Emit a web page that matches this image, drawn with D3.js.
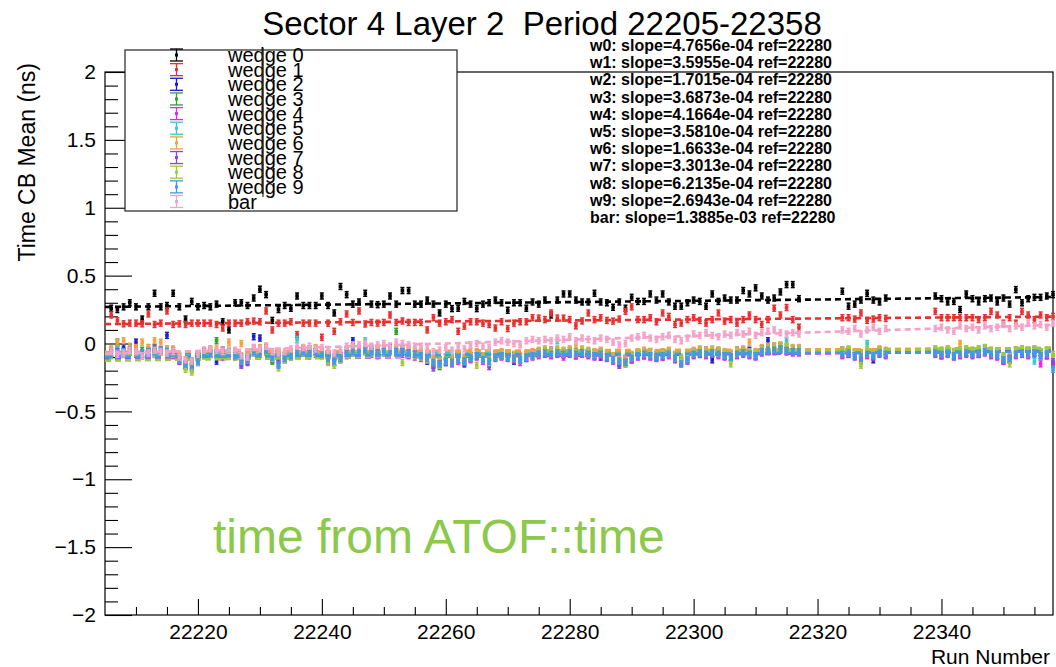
<!DOCTYPE html>
<html>
<head>
<meta charset="utf-8">
<script src="https://cdn.jsdelivr.net/npm/d3@7"></script>
<style>
body { margin: 0; background: #fff; }
text { font-family: "Liberation Sans", Arial, Helvetica, sans-serif; white-space: pre; }
</style>
</head>
<body>
<div id="chart"></div>
<script>
// run numbers that have a point
const runs = [
  22206,22207,22208,22209,22210,22211,22212,22213,22214,22215,
  22216,22217,22218,22219,22220,22221,22222,22223,22224,22225,
  22226,22227,22228,22229,22230,22231,22232,22233,22234,22235,
  22236,22237,22238,22239,22240,22241,22242,22243,22244,22245,
  22246,22247,22248,22249,22250,22251,22252,22253,22254,22255,
  22256,22257,22258,22259,22260,22261,22262,22263,22264,22265,
  22266,22267,22268,22269,22270,22271,22272,22273,22274,22275,
  22276,22277,22278,22279,22280,22281,22282,22283,22284,22285,
  22286,22287,22288,22289,22290,22291,22292,22293,22294,22295,
  22296,22297,22298,22299,22300,22301,22302,22303,22304,22305,
  22306,22307,22308,22309,22310,22311,22312,22313,22314,22315,
  22316,22317,22324,22325,22326,22327,22328,22329,22330,22331,
  22339,22340,22341,22342,22343,22344,22345,22346,22347,22348,
  22349,22350,22351,22352,22353,22354,22355,22356,22357,22358
];

const w0 = [
  0.26,0.25,0.27,0.30,0.27,0.18,0.27,0.37,0.27,0.28,
  0.37,0.27,0.18,0.31,0.27,0.28,0.27,0.29,0.16,0.10,
  0.30,0.30,0.28,0.335,0.40,0.36,0.17,0.25,0.28,0.26,
  0.35,0.28,0.28,0.28,0.35,0.28,0.225,0.42,0.36,0.29,
  0.306,0.37,0.29,0.286,0.29,0.35,0.29,0.39,0.39,0.29,
  0.29,0.32,0.29,0.225,0.29,0.257,0.26,0.31,0.29,0.257,
  0.29,0.30,0.32,0.30,0.245,0.30,0.30,0.26,0.306,0.29,
  0.32,0.21,0.32,0.365,0.365,0.32,0.306,0.306,0.37,0.306,
  0.30,0.267,0.306,0.26,0.34,0.31,0.31,0.365,0.32,0.365,
  0.306,0.275,0.275,0.30,0.32,0.31,0.275,0.365,0.31,0.335,
  0.32,0.32,0.39,0.365,0.41,0.35,0.32,0.335,0.38,0.434,
  0.434,0.33,0.385,0.275,0.29,0.32,0.37,0.32,0.306,0.335,
  0.35,0.33,0.306,0.31,0.25,0.365,0.33,0.306,0.33,0.335,
  0.306,0.335,0.29,0.397,0.30,0.33,0.34,0.34,0.35,0.36
];
const w1 = [
  0.21,0.168,0.145,0.15,0.15,0.145,0.218,0.14,0.15,0.24,
  0.14,0.145,0.14,0.15,0.15,0.15,0.15,0.14,0.114,0.15,
  0.15,0.15,0.16,0.165,0.16,0.24,0.10,0.15,0.15,0.16,
  0.065,0.15,0.15,0.15,0.046,0.15,0.09,0.16,0.218,0.155,
  0.24,0.144,0.155,0.15,0.155,0.21,0.155,0.166,0.155,0.155,
  0.155,0.10,0.19,0.15,0.16,0.176,0.09,0.128,0.16,0.16,
  0.15,0.14,0.114,0.16,0.11,0.15,0.16,0.16,0.19,0.187,
  0.176,0.225,0.187,0.187,0.176,0.13,0.166,0.225,0.176,0.19,
  0.17,0.165,0.18,0.237,0.27,0.176,0.176,0.19,0.16,0.225,
  0.20,0.14,0.15,0.176,0.19,0.17,0.15,0.176,0.225,0.165,
  0.176,0.15,0.176,0.21,0.176,0.14,0.176,0.26,0.21,0.265,
  0.176,0.12,0.19,0.19,0.18,0.225,0.17,0.18,0.19,0.185,
  0.237,0.19,0.19,0.19,0.19,0.19,0.19,0.176,0.19,0.237,
  0.21,0.15,0.19,0.15,0.237,0.21,0.176,0.21,0.19,0.20
];
const w2 = [
  -0.07,-0.04,-0.03,-0.06,0.01,-0.08,-0.05,-0.03,-0.06,0.06,
  -0.07,-0.12,-0.16,-0.13,-0.11,-0.06,-0.08,-0.13,-0.05,-0.07,
  -0.09,-0.10,-0.13,0.05,0.04,-0.06,-0.12,-0.15,-0.09,-0.07,
  -0.05,-0.07,-0.04,-0.06,-0.08,-0.12,-0.10,-0.09,-0.05,0.02,
  -0.06,-0.05,-0.04,-0.07,-0.06,-0.03,-0.06,-0.04,-0.07,-0.08,
  -0.09,-0.13,-0.16,-0.12,-0.14,-0.11,-0.12,-0.15,-0.09,-0.07,
  -0.12,-0.10,-0.08,-0.09,-0.08,-0.13,-0.10,-0.11,-0.07,-0.06,
  -0.07,-0.05,-0.07,-0.08,-0.05,-0.09,-0.06,-0.08,-0.07,-0.10,
  -0.10,-0.12,-0.14,-0.11,-0.12,-0.07,-0.09,-0.06,-0.10,-0.07,
  -0.08,-0.09,-0.13,-0.10,-0.06,-0.08,-0.05,-0.12,-0.06,-0.09,
  -0.10,-0.05,-0.07,-0.05,-0.09,-0.04,0.02,-0.05,-0.02,-0.06,
  -0.04,-0.06,-0.05,-0.08,-0.07,-0.11,-0.06,-0.12,-0.05,-0.08,
  -0.05,-0.09,-0.07,-0.06,-0.08,-0.07,-0.06,-0.08,-0.04,-0.06,
  -0.09,-0.13,-0.12,-0.05,-0.07,-0.08,-0.05,-0.07,-0.09,-0.15
];
const w3 = [
  -0.05,0.01,-0.06,-0.03,-0.07,-0.05,-0.06,-0.04,-0.05,-0.06,
  -0.05,-0.10,-0.17,-0.19,-0.13,-0.08,-0.05,0.02,-0.08,-0.06,
  -0.07,-0.14,-0.10,-0.06,-0.04,-0.03,-0.13,-0.10,-0.11,-0.09,
  -0.07,-0.04,-0.07,-0.04,-0.06,-0.09,-0.14,-0.11,-0.07,-0.04,
  -0.04,-0.05,-0.06,-0.05,-0.04,-0.05,0.09,-0.06,-0.05,-0.08,
  -0.07,-0.11,-0.15,-0.17,-0.10,-0.14,-0.12,-0.13,-0.11,-0.09,
  -0.10,-0.14,-0.10,-0.07,-0.10,-0.09,-0.12,-0.08,-0.09,-0.06,
  -0.05,-0.08,-0.05,-0.06,-0.07,-0.06,-0.07,-0.06,-0.09,-0.06,
  -0.08,-0.10,-0.13,-0.15,-0.09,-0.07,-0.08,-0.09,-0.08,-0.10,
  -0.06,-0.11,-0.14,-0.12,-0.08,-0.05,-0.06,-0.07,-0.05,-0.07,
  -0.08,-0.06,-0.05,-0.08,-0.07,-0.06,-0.03,-0.02,-0.04,-0.03,
  -0.06,-0.04,-0.08,-0.05,-0.09,-0.07,-0.08,-0.07,-0.07,-0.06,
  -0.07,-0.06,-0.05,-0.09,-0.06,-0.05,-0.08,-0.07,-0.06,-0.08,
  -0.07,-0.10,-0.09,-0.08,-0.05,-0.06,-0.07,-0.09,-0.06,-0.11
];
const w4 = [
  -0.08,-0.10,-0.07,-0.06,-0.08,-0.09,-0.07,-0.08,-0.06,-0.08,
  -0.09,-0.13,-0.15,-0.17,-0.14,-0.09,-0.08,-0.08,-0.10,-0.08,
  -0.10,-0.15,-0.13,-0.07,-0.08,-0.06,-0.11,-0.12,-0.12,-0.10,
  -0.08,-0.07,-0.09,-0.08,-0.09,-0.13,-0.14,-0.12,-0.09,-0.07,
  -0.07,-0.06,-0.08,-0.09,-0.07,-0.06,-0.07,-0.08,-0.09,-0.10,
  -0.11,-0.12,-0.15,-0.16,-0.14,-0.15,-0.13,-0.14,-0.12,-0.10,
  -0.13,-0.15,-0.11,-0.10,-0.11,-0.12,-0.14,-0.11,-0.10,-0.09,
  -0.08,-0.09,-0.08,-0.10,-0.08,-0.09,-0.08,-0.09,-0.10,-0.09,
  -0.11,-0.13,-0.15,-0.14,-0.12,-0.10,-0.09,-0.10,-0.11,-0.10,
  -0.09,-0.12,-0.15,-0.13,-0.09,-0.08,-0.09,-0.08,-0.09,-0.10,
  -0.11,-0.09,-0.08,-0.09,-0.10,-0.07,-0.06,-0.06,-0.05,-0.06,
  -0.07,-0.07,-0.09,-0.08,-0.10,-0.12,-0.09,-0.10,-0.08,-0.09,
  -0.08,-0.09,-0.08,-0.10,-0.09,-0.08,-0.09,-0.08,-0.07,-0.09,
  -0.10,-0.13,-0.12,-0.09,-0.08,-0.09,-0.08,-0.15,-0.09,-0.14
];
const w5 = [
  -0.06,-0.04,-0.06,-0.05,-0.04,-0.07,-0.03,-0.06,-0.05,-0.04,
  -0.06,-0.10,-0.13,-0.14,-0.11,-0.07,-0.05,-0.07,-0.06,-0.05,
  -0.08,-0.11,-0.10,-0.04,-0.06,-0.05,-0.08,-0.10,-0.09,-0.07,
  0.03,-0.05,-0.06,-0.04,-0.06,-0.09,-0.11,-0.10,-0.05,-0.04,
  -0.04,0.02,-0.05,-0.06,-0.04,-0.05,-0.04,-0.06,-0.05,-0.06,
  -0.08,-0.09,-0.12,-0.15,-0.11,-0.12,-0.10,-0.11,-0.09,-0.07,
  -0.10,-0.11,-0.08,-0.07,-0.08,-0.11,-0.10,-0.08,-0.07,-0.06,
  -0.06,-0.06,0.02,-0.06,-0.05,-0.07,-0.05,-0.06,-0.07,-0.06,
  -0.08,-0.10,-0.11,-0.12,-0.09,-0.07,-0.06,-0.07,-0.08,-0.07,
  -0.06,-0.09,-0.11,-0.10,-0.06,-0.05,-0.06,-0.05,-0.06,-0.07,
  -0.08,-0.06,-0.05,-0.06,-0.07,-0.04,-0.03,-0.03,-0.02,0.02,
  -0.04,-0.04,-0.06,-0.05,-0.07,-0.08,0.00,-0.07,-0.05,-0.06,
  -0.05,-0.06,-0.05,-0.07,-0.06,-0.05,-0.06,-0.05,-0.04,-0.06,
  -0.07,-0.10,-0.09,-0.06,-0.05,-0.06,-0.13,-0.07,-0.06,-0.10
];
const w6 = [
  -0.04,0.01,0.02,-0.02,-0.03,0.01,-0.03,0.02,0.01,-0.04,
  -0.04,-0.09,-0.12,-0.13,-0.10,-0.05,-0.04,-0.04,-0.05,0.01,
  -0.06,0.00,-0.09,-0.03,-0.03,-0.02,-0.07,-0.09,-0.08,-0.06,
  -0.04,-0.03,-0.04,-0.03,-0.05,-0.08,-0.10,-0.08,-0.04,-0.03,
  -0.03,-0.02,-0.03,-0.04,-0.03,-0.02,-0.03,-0.03,-0.04,-0.05,
  -0.06,-0.08,-0.11,-0.12,-0.10,-0.11,-0.09,-0.10,-0.06,-0.06,
  -0.09,-0.10,-0.07,-0.06,-0.07,-0.08,-0.09,-0.07,-0.06,-0.05,
  -0.04,-0.05,-0.04,-0.05,-0.04,-0.01,-0.04,-0.05,-0.06,-0.05,
  -0.07,-0.09,-0.10,-0.11,-0.08,-0.06,-0.05,-0.06,-0.07,-0.06,
  -0.05,-0.08,-0.10,-0.09,-0.05,-0.04,-0.05,-0.04,-0.05,-0.06,
  -0.07,-0.05,-0.04,0.01,-0.06,-0.03,-0.02,-0.02,-0.01,-0.02,
  -0.03,-0.03,-0.05,-0.04,-0.06,-0.07,-0.05,-0.06,-0.04,-0.05,
  -0.04,-0.05,-0.04,-0.06,0.00,-0.04,-0.05,-0.04,-0.03,-0.05,
  -0.06,-0.09,-0.08,-0.05,-0.04,-0.05,-0.04,-0.06,-0.05,-0.10
];
const w7 = [
  -0.07,-0.06,-0.08,-0.05,-0.06,-0.07,-0.06,-0.07,-0.05,-0.06,
  -0.07,-0.13,-0.16,-0.18,-0.13,-0.08,-0.07,-0.07,-0.08,-0.07,
  -0.09,-0.16,-0.14,-0.06,-0.06,-0.05,-0.10,-0.12,-0.11,-0.09,
  -0.07,-0.06,-0.07,-0.06,-0.08,-0.12,-0.14,-0.11,-0.07,-0.06,
  -0.06,-0.05,-0.06,-0.07,-0.06,-0.05,-0.06,-0.06,-0.07,-0.08,
  -0.09,-0.12,-0.18,-0.15,-0.13,-0.14,-0.12,-0.13,-0.11,-0.09,
  -0.12,-0.17,-0.10,-0.09,-0.10,-0.11,-0.12,-0.10,-0.09,-0.08,
  -0.07,-0.08,-0.07,-0.08,-0.07,-0.08,-0.07,-0.08,-0.09,-0.08,
  -0.10,-0.12,-0.16,-0.14,-0.11,-0.09,-0.08,-0.09,-0.10,-0.09,
  -0.08,-0.11,-0.13,-0.12,-0.08,-0.07,-0.08,-0.07,-0.08,-0.09,
  -0.10,-0.08,-0.07,-0.08,-0.09,-0.06,-0.05,-0.05,-0.04,-0.05,
  -0.06,-0.06,-0.08,-0.07,-0.09,-0.13,-0.08,-0.09,-0.07,-0.08,
  -0.07,-0.08,-0.07,-0.09,-0.08,-0.07,-0.08,-0.07,-0.06,-0.08,
  -0.09,-0.12,-0.11,-0.08,-0.07,-0.08,-0.07,-0.09,-0.08,-0.13
];
const w8 = [
  -0.09,-0.07,-0.08,-0.06,-0.07,-0.09,-0.07,-0.08,-0.06,-0.07,
  -0.08,-0.12,-0.19,-0.21,-0.14,-0.09,-0.08,-0.09,-0.09,-0.08,
  -0.10,-0.13,-0.12,-0.07,-0.07,-0.06,-0.11,-0.18,-0.12,-0.10,
  -0.08,-0.07,-0.08,-0.07,-0.09,-0.14,-0.16,-0.12,-0.08,-0.07,
  -0.07,-0.06,-0.07,-0.08,-0.07,-0.06,-0.07,-0.14,-0.08,-0.09,
  -0.10,-0.12,-0.14,-0.16,-0.13,-0.14,-0.12,-0.13,-0.11,-0.16,
  -0.12,-0.14,-0.10,-0.09,-0.10,-0.11,-0.12,-0.10,-0.09,-0.08,
  -0.06,-0.07,-0.06,-0.07,-0.06,-0.07,-0.06,-0.07,-0.08,-0.07,
  -0.09,-0.11,-0.13,-0.15,-0.10,-0.08,-0.07,-0.08,-0.09,-0.08,
  -0.07,-0.10,-0.12,-0.11,-0.07,-0.06,-0.07,-0.06,-0.07,-0.08,
  -0.15,-0.07,-0.06,-0.07,-0.08,-0.05,-0.04,-0.04,-0.03,-0.03,
  -0.04,-0.04,-0.06,-0.05,-0.07,-0.16,-0.06,-0.07,-0.05,-0.06,
  -0.04,-0.05,-0.04,-0.06,-0.05,-0.04,-0.05,-0.04,-0.03,-0.05,
  -0.06,-0.09,-0.15,-0.05,-0.04,-0.05,-0.04,-0.06,-0.05,-0.08
];
const w9 = [
  -0.08,-0.07,-0.06,-0.05,-0.06,-0.07,-0.06,-0.06,-0.05,-0.06,
  -0.07,-0.12,-0.15,-0.16,-0.13,-0.08,-0.07,-0.07,-0.08,-0.07,
  -0.09,-0.13,-0.12,-0.06,-0.06,-0.05,-0.10,-0.16,-0.11,-0.09,
  -0.07,-0.06,-0.07,-0.06,-0.08,-0.11,-0.13,-0.11,-0.07,-0.06,
  -0.06,-0.05,-0.06,-0.07,-0.06,-0.05,-0.06,-0.06,-0.07,-0.08,
  -0.09,-0.11,-0.14,-0.15,-0.13,-0.14,-0.12,-0.13,-0.11,-0.09,
  -0.12,-0.13,-0.10,-0.09,-0.10,-0.11,-0.12,-0.10,-0.09,-0.08,
  -0.07,-0.08,-0.07,-0.08,-0.07,-0.08,-0.07,-0.08,-0.09,-0.08,
  -0.10,-0.12,-0.13,-0.14,-0.11,-0.09,-0.08,-0.09,-0.10,-0.09,
  -0.08,-0.11,-0.15,-0.12,-0.08,-0.07,-0.08,-0.07,-0.08,-0.09,
  -0.10,-0.08,-0.07,-0.08,-0.09,-0.06,-0.05,-0.05,-0.04,-0.05,
  -0.06,-0.06,-0.08,-0.07,-0.09,-0.10,-0.08,-0.09,-0.07,-0.08,
  -0.07,-0.08,-0.07,-0.09,-0.08,-0.07,-0.08,-0.07,-0.06,-0.08,
  -0.09,-0.12,-0.11,-0.08,-0.07,-0.08,-0.07,-0.09,-0.08,-0.19
];
const bar = [
  -0.06,-0.08,-0.07,-0.05,-0.06,-0.09,-0.07,-0.05,-0.06,-0.07,
  -0.06,-0.10,-0.12,-0.13,-0.08,-0.05,-0.04,-0.05,-0.06,-0.05,
  -0.05,-0.09,-0.10,-0.03,-0.04,-0.02,-0.06,-0.07,-0.06,-0.04,
  -0.02,-0.03,-0.02,-0.04,-0.03,-0.05,-0.07,-0.05,-0.02,-0.01,
  -0.01,0.00,-0.02,-0.01,0.00,-0.02,0.01,0.00,-0.01,-0.02,
  -0.02,-0.04,-0.06,-0.05,-0.03,-0.05,-0.02,-0.04,-0.01,0.00,
  -0.02,-0.03,0.01,0.02,0.01,0.00,-0.01,0.02,0.03,0.02,
  0.03,0.02,0.04,0.03,0.05,0.02,0.04,0.03,0.02,0.04,
  0.03,0.01,-0.01,0.00,0.04,0.05,0.06,0.04,0.03,0.05,
  0.06,0.03,0.02,0.04,0.07,0.06,0.08,0.06,0.05,0.07,
  0.06,0.08,0.07,0.09,0.06,0.08,0.09,0.10,0.08,0.07,
  0.08,0.07,0.10,0.09,0.11,0.07,0.10,0.12,0.09,0.11,
  0.11,0.12,0.10,0.09,0.13,0.11,0.12,0.10,0.13,0.11,
  0.12,0.14,0.11,0.13,0.12,0.15,0.13,0.14,0.12,0.15
];

const seriesValues = [w0, w1, w2, w3, w4, w5, w6, w7, w8, w9, bar];
const seriesNames = ["wedge 0","wedge 1","wedge 2","wedge 3","wedge 4","wedge 5","wedge 6","wedge 7","wedge 8","wedge 9","bar"];
const seriesTags = ["w0","w1","w2","w3","w4","w5","w6","w7","w8","w9","bar"];
const seriesColors = ["#000000","#e8302e","#1c1cd4","#34a02c","#ee22ee","#33cccc","#f2a040","#8a44ee","#9ccc3a","#3d9be9","#f4a2c8"];
const errs = [0.022,0.022,0.022,0.022,0.022,0.022,0.022,0.022,0.022,0.022,0.022];

// linear fits: value = intercept + slope*(run - ref)
const slopes = [4.7656e-04,3.5955e-04,1.7015e-04,3.6873e-04,4.1664e-04,3.5810e-04,1.6633e-04,3.3013e-04,6.2135e-04,2.6943e-04,1.3885e-03];
const intercepts = [0.305,0.17,-0.07,-0.07,-0.09,-0.06,-0.05,-0.08,-0.08,-0.08,0.028];
const refRun = 22280;

const yMajor = [-2,-1.5,-1,-0.5,0,0.5,1,1.5,2];
const xMajor = [22220,22240,22260,22280,22300,22320,22340];

const width = 1056, height = 667;
const frame = {left: 105, right: 1053, top: 72, bottom: 615};

const svg = d3.select("#chart").append("svg")
    .attr("width", width)
    .attr("height", height);

const x = d3.scaleLinear().domain([22205, 22358]).range([frame.left, frame.right]);
const y = d3.scaleLinear().domain([-2, 2]).range([frame.bottom, frame.top]);

// frame
svg.append("rect")
    .attr("x", frame.left).attr("y", frame.top)
    .attr("width", frame.right - frame.left)
    .attr("height", frame.bottom - frame.top)
    .attr("fill", "none").attr("stroke", "#000").attr("stroke-width", 1.2);

// y axis (ticks point inside the frame)
const yMinor = d3.range(-2, 2.001, 0.1).filter(v => Math.abs(v * 2 - Math.round(v * 2)) > 1e-6);
svg.append("g")
    .attr("transform", `translate(${frame.left},0)`)
    .call(d3.axisLeft(y).tickValues(yMinor).tickSize(-13).tickFormat(""))
    .call(g => g.select(".domain").remove());
const yAxis = svg.append("g")
    .attr("transform", `translate(${frame.left},0)`)
    .call(d3.axisLeft(y).tickValues(yMajor).tickSize(-27).tickPadding(9)
        .tickFormat(d => d3.format("~g")(d)))
    .call(g => g.select(".domain").remove());
yAxis.selectAll("text").attr("font-size", 21).attr("font-family", "Liberation Sans, Arial, sans-serif");

// x axis
const xMinor = d3.range(22210, 22358, 5).filter(v => v % 20 !== 0);
svg.append("g")
    .attr("transform", `translate(0,${frame.bottom})`)
    .call(d3.axisBottom(x).tickValues(xMinor).tickSize(-8).tickFormat(""))
    .call(g => g.select(".domain").remove());
const xAxis = svg.append("g")
    .attr("transform", `translate(0,${frame.bottom})`)
    .call(d3.axisBottom(x).tickValues(xMajor).tickSize(-16).tickPadding(9)
        .tickFormat(d3.format("d")))
    .call(g => g.select(".domain").remove());
xAxis.selectAll("text").attr("font-size", 21).attr("font-family", "Liberation Sans, Arial, sans-serif");
svg.selectAll(".tick line").attr("stroke", "#000").attr("stroke-width", 1.1);

// points and fits, one graph after the other
const plot = svg.append("g");
seriesValues.forEach((vals, i) => {
    const col = seriesColors[i];
    const e = errs[i];
    const pts = runs.map((r, j) => ({run: r, v: vals[j]})).filter(d => d.v !== null);
    const g = plot.append("g");
    const p = g.selectAll("g").data(pts).enter().append("g")
        .attr("transform", d => `translate(${x(d.run)},0)`);
    p.append("line")
        .attr("y1", d => y(d.v - e)).attr("y2", d => y(d.v + e))
        .attr("stroke", col).attr("stroke-width", 1.8);
    p.append("line")
        .attr("x1", -2).attr("x2", 2)
        .attr("y1", d => y(d.v - e)).attr("y2", d => y(d.v - e))
        .attr("stroke", col).attr("stroke-width", 1.5);
    p.append("line")
        .attr("x1", -2).attr("x2", 2)
        .attr("y1", d => y(d.v + e)).attr("y2", d => y(d.v + e))
        .attr("stroke", col).attr("stroke-width", 1.5);
    p.append("rect")
        .attr("x", -1.8).attr("width", 3.6)
        .attr("y", d => y(d.v) - 1.8).attr("height", 3.6)
        .attr("fill", col);

    const fit = r => intercepts[i] + slopes[i] * (r - refRun);
    g.append("line")
        .attr("x1", x(22205)).attr("x2", x(22358))
        .attr("y1", y(fit(22205))).attr("y2", y(fit(22358)))
        .attr("stroke", col).attr("stroke-width", 2.6)
        .attr("stroke-dasharray", "6,4");
});

// title
svg.append("text")
    .attr("x", 542).attr("y", 35)
    .attr("text-anchor", "middle")
    .attr("font-size", 33)
    .text("Sector 4 Layer 2  Period 22205-22358");

// axis titles
svg.append("text")
    .attr("transform", "translate(35,63) rotate(-90)")
    .attr("text-anchor", "end")
    .attr("font-size", 23)
    .text("Time CB Mean (ns)");
svg.append("text")
    .attr("x", 1050).attr("y", 664)
    .attr("text-anchor", "end")
    .attr("font-size", 21)
    .text("Run Number");

// legend
const legend = svg.append("g");
legend.append("rect")
    .attr("x", 125).attr("y", 50)
    .attr("width", 332).attr("height", 161)
    .attr("fill", "#fff").attr("stroke", "#222").attr("stroke-width", 1.2);
const rowY = d3.scaleLinear().domain([0, 10]).range([55, 201.5]);
seriesNames.forEach((name, i) => {
    const cy = rowY(i);
    const col = seriesColors[i];
    const lg = legend.append("g");
    lg.append("line").attr("x1", 176.5).attr("x2", 176.5).attr("y1", cy - 6).attr("y2", cy + 6)
        .attr("stroke", col).attr("stroke-width", 1.3);
    lg.append("line").attr("x1", 170).attr("x2", 183).attr("y1", cy - 6).attr("y2", cy - 6)
        .attr("stroke", col).attr("stroke-width", 1.3);
    lg.append("line").attr("x1", 170).attr("x2", 183).attr("y1", cy + 6).attr("y2", cy + 6)
        .attr("stroke", col).attr("stroke-width", 1.3);
    lg.append("rect").attr("x", 175).attr("y", cy - 1.5).attr("width", 3).attr("height", 3).attr("fill", col);
    lg.append("text")
        .attr("x", 228).attr("y", cy + 7)
        .attr("font-size", 20)
        .text(name);
});
// stray vertical rule that crosses the legend labels
legend.append("line")
    .attr("x1", 263).attr("x2", 263).attr("y1", 48).attr("y2", 197)
    .attr("stroke", "#333").attr("stroke-width", 1.2);

// slope annotations
const fmtSlope = s => {
    const [m, ex] = s.toExponential(4).split("e");
    const n = Math.abs(+ex);
    return m + "e" + (+ex < 0 ? "-" : "+") + (n < 10 ? "0" + n : n);
};
seriesTags.forEach((tag, i) => {
    svg.append("text")
        .attr("x", 590).attr("y", 51 + i * 17.2)
        .attr("font-size", 16)
        .attr("font-weight", "bold")
        .text(`${tag}: slope=${fmtSlope(slopes[i])} ref=${refRun}`);
});

// note
svg.append("text")
    .attr("x", 213).attr("y", 553)
    .attr("font-size", 48)
    .attr("fill", "#8cc84a")
    .text("time from ATOF::time");
</script>
</body>
</html>
